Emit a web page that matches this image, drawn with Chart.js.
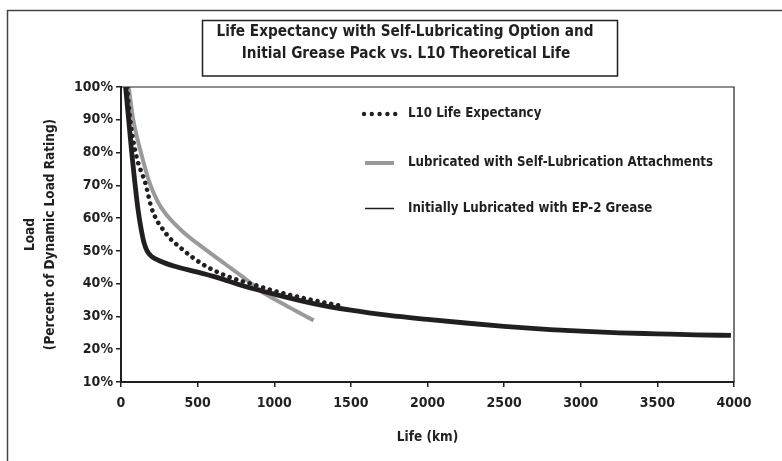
<!DOCTYPE html>
<html>
<head>
<meta charset="utf-8">
<script src="https://cdn.jsdelivr.net/npm/chart.js@4.4.0/dist/chart.umd.min.js"></script>
<style>
  html, body { margin: 0; padding: 0; background: #fff; }
</style>
</head>
<body>
<canvas id="life" width="782" height="461"></canvas>
<script>
const ink = '#231f20';
const grey = '#9a9a9a';
const face = "'DejaVu Sans Condensed', 'Liberation Sans Narrow', sans-serif";

const titleLines = [
    'Life Expectancy with Self-Lubricating Option and',
    'Initial Grease Pack vs. L10 Theoretical Life'
];
const seriesNames = [
    'L10 Life Expectancy',
    'Lubricated with Self-Lubrication Attachments',
    'Initially Lubricated with EP-2 Grease'
];

// L10 theoretical life (km) vs load (%)
const l10Km   = [40, 60, 100, 160, 200, 290, 400, 530, 680, 880, 1000, 1200, 1460];
const l10Load = [100, 90, 79, 70.5, 63, 55.5, 50.5, 46, 42.5, 39.5, 37.8, 35.5, 33];

// with self-lubrication attachments
const selfLubeKm   = [50, 80, 130, 185, 240, 290, 400, 528, 680, 811, 920, 1000, 1130, 1257];
const selfLubeLoad = [100, 90, 80, 71, 65, 61.4, 56, 51.2, 46, 41.5, 37.5, 35.3, 32, 28.8];

// initial EP-2 grease pack only
const greaseKm   = [30, 50, 70, 90, 110, 130, 150, 170, 200, 250, 350, 500, 620, 800, 1000,
                    1250, 1500, 1750, 2000, 2250, 2500, 2800, 3000, 3250, 3500, 3750, 3980];
const greaseLoad = [100, 90, 80, 71, 63, 57, 52.5, 50, 48.3, 47, 45.3, 43.5, 42, 39.3, 36.8,
                    34, 31.9, 30.3, 29.1, 28, 27, 26, 25.5, 25, 24.7, 24.4, 24.2];

const xTicks = [0, 500, 1000, 1500, 2000, 2500, 3000, 3500, 4000];
const yTicks = [10, 20, 30, 40, 50, 60, 70, 80, 90, 100];

function pairs(xs, ys) {
    return xs.map((x, i) => ({x: x, y: ys[i]}));
}

// frame, boxed title, plot border and the in-plot legend
const decorations = {
    id: 'decorations',
    beforeDraw(chart) {
        const ctx = chart.ctx;
        ctx.save();
        ctx.fillStyle = '#fff';
        ctx.fillRect(0, 0, chart.width, chart.height);
        ctx.restore();
    },
    afterDraw(chart) {
        const ctx = chart.ctx;
        const a = chart.chartArea;
        ctx.save();

        // outer frame
        ctx.strokeStyle = '#444';
        ctx.lineWidth = 1.5;
        ctx.beginPath();
        ctx.moveTo(7.5, 461);
        ctx.lineTo(7.5, 10.5);
        ctx.lineTo(782, 10.5);
        ctx.stroke();

        // title box
        ctx.strokeStyle = ink;
        ctx.lineWidth = 1.5;
        ctx.strokeRect(202.5, 20.5, 415, 55.5);
        ctx.fillStyle = ink;
        ctx.font = 'bold 15.2px ' + face;
        ctx.textAlign = 'center';
        ctx.textBaseline = 'middle';
        ctx.fillText(titleLines[0], 405, 32);
        ctx.fillText(titleLines[1], 406, 54);

        // top and right edges of the plot
        ctx.lineWidth = 1.2;
        ctx.beginPath();
        ctx.moveTo(a.left, a.top);
        ctx.lineTo(a.right, a.top);
        ctx.lineTo(a.right, a.bottom);
        ctx.stroke();

        // legend
        const rows = [114, 163, 208.5];
        chart.data.datasets.forEach((ds, i) => {
            const y = rows[i];
            if (ds.borderDash && ds.borderDash.length) {
                ctx.fillStyle = ds.borderColor;
                for (let k = 0; k < 5; k++) {
                    ctx.beginPath();
                    ctx.arc(364 + k * 7.8, y, 2.2, 0, Math.PI * 2);
                    ctx.fill();
                }
            } else {
                ctx.strokeStyle = ds.borderColor;
                ctx.lineWidth = i === 1 ? 4 : 1.5;
                ctx.beginPath();
                ctx.moveTo(365, y);
                ctx.lineTo(394, y);
                ctx.stroke();
            }
            ctx.fillStyle = ink;
            ctx.font = 'bold 13.2px ' + face;
            ctx.textAlign = 'left';
            ctx.fillText(ds.label, 408, y);
        });
        ctx.restore();
    }
};

const lifeChart = new Chart(
    document.getElementById('life'),
    {
        type: 'line',
        data: {
            datasets: [{
                label: seriesNames[0],
                data: pairs(l10Km, l10Load),
                borderColor: ink,
                borderWidth: 4.6,
                borderDash: [0.01, 7],
                borderCapStyle: 'round',
                cubicInterpolationMode: 'monotone',
                pointRadius: 0,
                order: 0
            }, {
                label: seriesNames[1],
                data: pairs(selfLubeKm, selfLubeLoad),
                borderColor: grey,
                borderWidth: 4,
                cubicInterpolationMode: 'monotone',
                pointRadius: 0,
                order: 2
            }, {
                label: seriesNames[2],
                data: pairs(greaseKm, greaseLoad),
                borderColor: ink,
                borderWidth: 4.8,
                cubicInterpolationMode: 'monotone',
                pointRadius: 0,
                order: 1
            }]
        },
        options: {
            responsive: false,
            animation: false,
            devicePixelRatio: 1,
            layout: {padding: {top: 87, right: 48, bottom: 0, left: 0}},
            plugins: {
                legend: {display: false},
                title: {display: false},
                tooltip: {enabled: false}
            },
            scales: {
                x: {
                    type: 'linear',
                    min: 0,
                    max: 4000,
                    afterFit: (s) => { s.height = 79; },
                    afterBuildTicks: (s) => { s.ticks = xTicks.map(v => ({value: v})); },
                    grid: {drawOnChartArea: false, drawTicks: true, tickLength: 5, color: ink, lineWidth: 1.5},
                    border: {display: true, color: ink, width: 2},
                    ticks: {
                        color: ink,
                        padding: 8,
                        maxRotation: 0,
                        font: {family: face, size: 14, weight: 'bold'},
                        callback: (v) => String(v)
                    },
                    title: {
                        display: true,
                        text: 'Life (km)',
                        color: ink,
                        padding: {top: 0, bottom: 15},
                        font: {family: face, size: 13.5, weight: 'bold'}
                    }
                },
                y: {
                    min: 10,
                    max: 100,
                    afterFit: (s) => { s.width = 121; },
                    afterBuildTicks: (s) => { s.ticks = yTicks.map(v => ({value: v})); },
                    grid: {drawOnChartArea: false, drawTicks: true, tickLength: 5, color: ink, lineWidth: 1.5},
                    border: {display: true, color: ink, width: 2},
                    ticks: {
                        color: ink,
                        padding: 3,
                        font: {family: face, size: 14, weight: 'bold'},
                        callback: (v) => v + '%'
                    },
                    title: {
                        display: true,
                        text: ['Load', '(Percent of Dynamic Load Rating)'],
                        color: ink,
                        padding: {top: 21, bottom: 0},
                        font: {family: face, size: 13.5, weight: 'bold', lineHeight: 1.45}
                    }
                }
            }
        },
        plugins: [decorations]
    }
);
</script>
</body>
</html>
